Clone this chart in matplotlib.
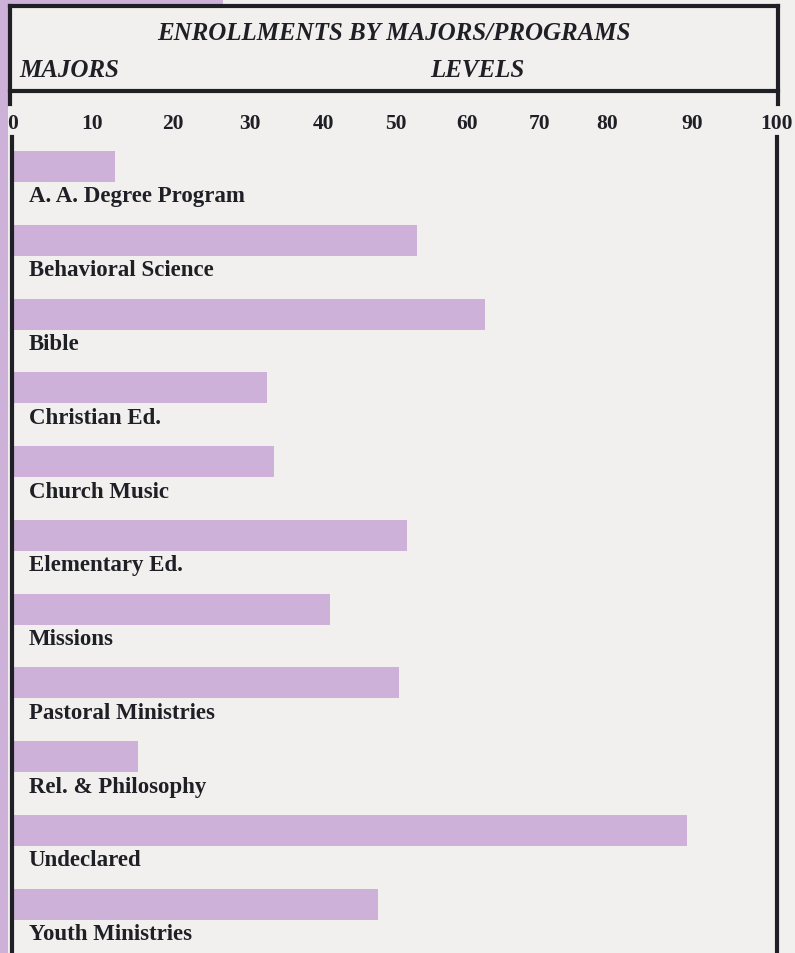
import matplotlib.pyplot as plt
from matplotlib.lines import Line2D
from matplotlib.patches import Rectangle

# data
majors = ['A. A. Degree Program', 'Behavioral Science', 'Bible', 'Christian Ed.',
          'Church Music', 'Elementary Ed.', 'Missions', 'Pastoral Ministries',
          'Rel. & Philosophy', 'Undeclared', 'Youth Ministries']
enrollment = [13.5, 53.0, 61.8, 33.3, 34.2, 51.6, 41.6, 50.6, 16.5, 88.2, 47.8]
tick_labels = ['0', '10', '20', '30', '40', '50', '60', '70', '80', '90', '100']
# the printed scale is not evenly spaced, so labels sit where they were printed
tick_pos = [0.1, 10.5, 21.0, 31.1, 40.7, 50.2, 59.5, 69.0, 77.8, 88.9, 100]

page = '#f1f0ee'
purple = '#ceb1d9'
ink = '#1f1f26'
serif = ['Liberation Serif', 'DejaVu Serif']

W, H = 795, 954


def fx(px):
    return px / W


def fy(py):
    return 1 - py / H


fig = plt.figure(figsize=(W / 100, H / 100), dpi=100, facecolor=page)

# purple page margin
fig.add_artist(Rectangle((0, 0), fx(8), 1, transform=fig.transFigure,
                         color=purple, lw=0, zorder=0))
fig.add_artist(Rectangle((0, fy(5)), fx(223), 5 / H, transform=fig.transFigure,
                         color=purple, lw=0, zorder=0))

# header box
lw = 3
for xs, ys in [((10, 778), (7, 7)), ((10, 778), (92, 92)),
               ((10, 10), (7, 105)), ((778, 778), (7, 105))]:
    fig.add_artist(Line2D([fx(v) for v in xs], [fy(v) for v in ys],
                          transform=fig.transFigure, color=ink, lw=lw,
                          solid_capstyle='projecting'))

hdr = dict(va='baseline', fontsize=18, fontweight='bold', style='italic',
           family=serif, color=ink)
fig.text(fx(394), fy(40), 'ENROLLMENTS BY MAJORS/PROGRAMS', ha='center', **hdr)
fig.text(fx(19), fy(77), 'MAJORS', ha='left', **hdr)
fig.text(fx(477), fy(77), 'LEVELS', ha='center', **hdr)

# main chart
ax = fig.add_axes([fx(12), 0, fx(777) - fx(12), (H - 138) / H])
ax.set_facecolor('none')
y = list(range(len(majors)))
ax.barh(y, enrollment, height=0.42, color=purple, lw=0)
for i, name in enumerate(majors):
    ax.text(2.2, i + 0.474, name, ha='left', va='baseline', fontsize=16.5,
            fontweight='bold', family=serif, color=ink)

ax.set_xlim(0, 100)
ax.set_ylim(10.66, -0.40)
ax.xaxis.tick_top()
ax.set_xticks(tick_pos, tick_labels)
ax.tick_params(axis='x', length=0, pad=3, labelsize=15.5, colors=ink)
for lab in ax.get_xticklabels():
    lab.set_fontweight('bold')
    lab.set_family(serif)
ax.set_yticks([])
for side in ['top', 'bottom']:
    ax.spines[side].set_visible(False)
for side in ['left', 'right']:
    ax.spines[side].set_linewidth(lw)
    ax.spines[side].set_color(ink)

fig.savefig('out.png', dpi=100, facecolor=page)
